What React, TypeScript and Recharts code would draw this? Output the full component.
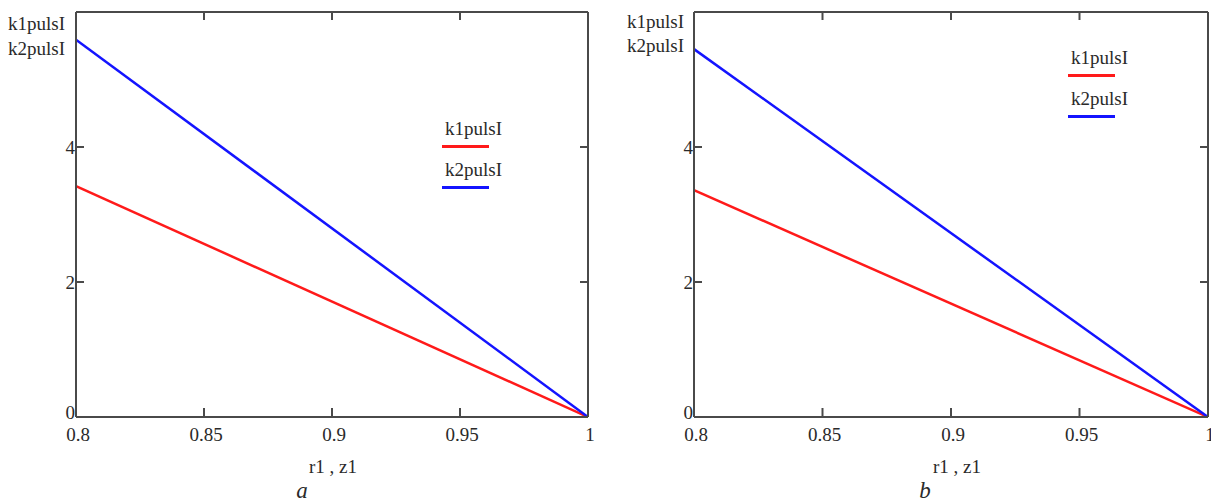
import React from 'react';
import { LineChart, Line, XAxis, YAxis } from 'recharts';

// r1, z1 values (x axis)
const rValues = [0.8, 1];

// panel a
const k1pulsA = [3.42, 0];
const k2pulsA = [5.59, 0];

// panel b
const k1pulsB = [3.36, 0];
const k2pulsB = [5.45, 0];

const xTicks = [0.8, 0.85, 0.9, 0.95, 1];
const yTicks = [0, 2, 4];
const seriesNames = ['k1pulsI', 'k2pulsI'];
const seriesColors = ['#ff1a1a', '#1414ff'];

const FONT = '"Liberation Serif", "Times New Roman", serif';
const AXIS = '#4a4a4a';
const TEXT = '#2a2a2a';
const FS = 19;

const XTick = (props: any) => {
  const { x, y, payload, top } = props;
  if (top) return <line x1={x} y1={y} x2={x} y2={y + 8} stroke={AXIS} strokeWidth={2} />;
  return (
    <g>
      <line x1={x} y1={y} x2={x} y2={y - 9} stroke={AXIS} strokeWidth={2} />
      <text x={x + 2} y={y + 24} textAnchor="middle" fontFamily={FONT} fontSize={FS} fill={TEXT}>
        {payload.value}
      </text>
    </g>
  );
};

const YTick = (props: any) => {
  const { x, y, payload, right } = props;
  if (right) return <line x1={x} y1={y} x2={x - 8} y2={y} stroke={AXIS} strokeWidth={2} />;
  return (
    <g>
      <line x1={x} y1={y} x2={x + 8} y2={y} stroke={AXIS} strokeWidth={2} />
      <text x={x - 1} y={y + (payload.value === 0 ? 2 : 7)} textAnchor="end" fontFamily={FONT} fontSize={FS} fill={TEXT}>
        {payload.value}
      </text>
    </g>
  );
};

interface PanelProps {
  k1: number[];
  k2: number[];
  left: number;
  width: number;
  plotLeft: number;
  plotRight: number;
  legendX: number;
  legendY: number[];
  labelX: number;
  labelY: number[];
  titleX: number;
  caption: string;
  captionX: number;
}

const abs = (x: number, y: number, extra: React.CSSProperties = {}): React.CSSProperties => ({
  position: 'absolute',
  left: x,
  top: y,
  fontFamily: FONT,
  fontSize: FS,
  color: TEXT,
  whiteSpace: 'nowrap',
  lineHeight: '22px',
  ...extra,
});

const axisLine = { stroke: AXIS, strokeWidth: 2 };

const Panel = (p: PanelProps) => {
  const data = rValues.map((r, i) => ({ r, k1pulsI: p.k1[i], k2pulsI: p.k2[i] }));
  return (
    <>
      <div style={{ position: 'absolute', left: p.left, top: 0 }}>
        <LineChart
          width={p.width}
          height={502}
          data={data}
          margin={{ top: 11, left: p.plotLeft - 1, right: p.width - p.plotRight - 1, bottom: 84 }}
        >
          <XAxis
            dataKey="r"
            type="number"
            domain={[0.8, 1]}
            ticks={xTicks}
            height={1}
            tickSize={0}
            tickMargin={0}
            tickLine={false}
            interval={0}
            axisLine={axisLine}
            tick={<XTick />}
            allowDataOverflow
          />
          <XAxis
            xAxisId="top"
            orientation="top"
            dataKey="r"
            type="number"
            domain={[0.8, 1]}
            ticks={xTicks.slice(1, -1)}
            height={1}
            tickSize={0}
            tickMargin={0}
            tickLine={false}
            interval={0}
            axisLine={axisLine}
            tick={<XTick top />}
            allowDataOverflow
          />
          <YAxis
            type="number"
            domain={[0, 6]}
            ticks={yTicks}
            width={1}
            tickSize={0}
            tickMargin={0}
            tickLine={false}
            interval={0}
            axisLine={axisLine}
            tick={<YTick />}
            allowDataOverflow
          />
          <YAxis
            yAxisId="right"
            orientation="right"
            type="number"
            domain={[0, 6]}
            ticks={yTicks.slice(1)}
            width={1}
            tickSize={0}
            tickMargin={0}
            tickLine={false}
            interval={0}
            axisLine={axisLine}
            tick={<YTick right />}
            allowDataOverflow
          />
          <Line type="linear" dataKey="k1pulsI" stroke={seriesColors[0]} strokeWidth={2.5} dot={false} isAnimationActive={false} />
          <Line type="linear" dataKey="k2pulsI" stroke={seriesColors[1]} strokeWidth={2.5} dot={false} isAnimationActive={false} />
        </LineChart>
      </div>

      {/* y axis title */}
      {seriesNames.map((n, i) => (
        <div key={'yl' + n} style={abs(p.labelX, p.labelY[i] - 11)}>{n}</div>
      ))}

      {/* legend */}
      {seriesNames.map((n, i) => (
        <React.Fragment key={'lg' + n}>
          <div style={abs(p.legendX + 3, p.legendY[i] - 11)}>{n}</div>
          <div
            style={{
              position: 'absolute',
              left: p.legendX,
              top: p.legendY[i] + 16,
              width: 47,
              height: 3,
              background: seriesColors[i],
            }}
          />
        </React.Fragment>
      ))}

      <div style={abs(p.titleX, 467 - 11, { transform: 'translateX(-50%)' })}>r1 , z1</div>
      <div style={abs(p.captionX, 479, { transform: 'translateX(-50%)', fontStyle: 'italic', fontSize: 23, lineHeight: '23px' })}>
        {p.caption}
      </div>
    </>
  );
};

export default function App() {
  return (
    <div style={{ position: 'absolute', left: 0, top: 0, width: 1211, height: 502, background: '#fff', overflow: 'hidden' }}>
      <Panel
        k1={k1pulsA}
        k2={k2pulsA}
        left={0}
        width={600}
        plotLeft={76}
        plotRight={588}
        legendX={442}
        legendY={[129, 170]}
        labelX={8}
        labelY={[24, 49]}
        titleX={333}
        caption="a"
        captionX={302}
      />
      <Panel
        k1={k1pulsB}
        k2={k2pulsB}
        left={610}
        width={601}
        plotLeft={84}
        plotRight={598}
        legendX={1068}
        legendY={[58, 99]}
        labelX={627}
        labelY={[22, 46]}
        titleX={957}
        caption="b"
        captionX={925}
      />
    </div>
  );
}
